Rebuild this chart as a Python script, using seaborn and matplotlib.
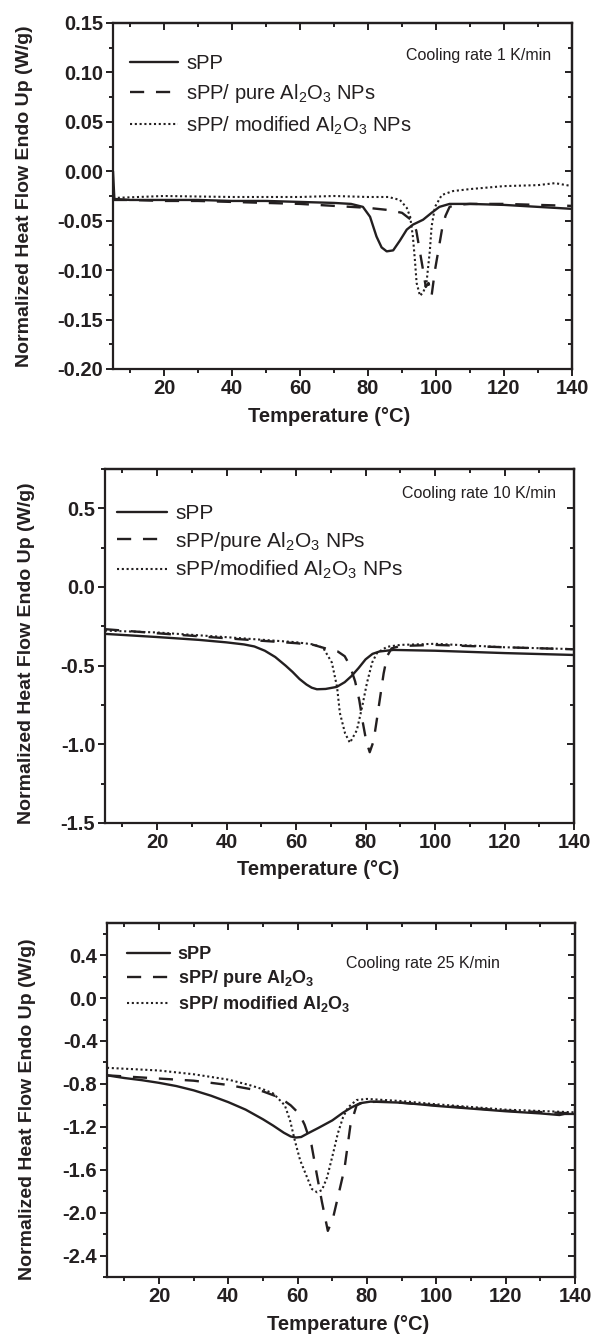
import pandas as pd
import seaborn as sns
import matplotlib.pyplot as plt
from matplotlib.ticker import MultipleLocator, FormatStrFormatter

# --- panel 1: cooling rate 1 K/min ---
spp1_t = [5.0, 5.4, 10, 20, 30, 40, 50, 60, 70, 75, 78.5, 80.6, 82.5, 84, 85.5, 87.4, 89.4, 91.4, 93.2, 96.2, 98.7, 101, 104, 110, 120, 130, 140]
spp1_y = [0.0, -0.028, -0.029, -0.029, -0.029, -0.030, -0.030, -0.031, -0.032, -0.033, -0.036, -0.046, -0.066, -0.077, -0.081, -0.080, -0.070, -0.059, -0.054, -0.049, -0.042, -0.036, -0.033, -0.033, -0.034, -0.036, -0.038]
pure1_t = [5, 10, 20, 30, 40, 50, 60, 70, 80, 85.5, 90, 91.5, 93, 94.2, 95.2, 96.2, 97.0, 97.8, 98.7, 99.7, 100.8, 101.8, 102.8, 104, 106, 110, 120, 130, 140]
pure1_y = [-0.029, -0.029, -0.030, -0.030, -0.031, -0.032, -0.033, -0.035, -0.037, -0.039, -0.042, -0.046, -0.050, -0.060, -0.080, -0.100, -0.117, -0.113, -0.126, -0.100, -0.078, -0.058, -0.045, -0.036, -0.034, -0.033, -0.033, -0.034, -0.035]
mod1_t = [5, 20, 40, 60, 70, 80, 86, 89.4, 91.4, 92.4, 93.2, 93.8, 94.3, 95.3, 96.3, 97.2, 98.2, 98.7, 99.7, 101.7, 105, 110, 120, 130, 135, 140]
mod1_y = [-0.027, -0.025, -0.026, -0.026, -0.025, -0.026, -0.026, -0.029, -0.037, -0.046, -0.066, -0.090, -0.113, -0.126, -0.122, -0.113, -0.080, -0.056, -0.036, -0.024, -0.020, -0.018, -0.015, -0.014, -0.012, -0.015]

# --- panel 2: cooling rate 10 K/min ---
spp2_t = [5, 20, 32, 40, 45, 48, 51, 54, 57, 59, 61, 63, 64.5, 66, 68.5, 71.7, 74, 76, 78, 80, 82, 84, 88, 100, 120, 140]
spp2_y = [-0.298, -0.318, -0.336, -0.352, -0.365, -0.378, -0.405, -0.445, -0.50, -0.54, -0.585, -0.62, -0.64, -0.65, -0.648, -0.635, -0.605, -0.565, -0.515, -0.46, -0.425, -0.41, -0.40, -0.405, -0.42, -0.432]
pure2_t = [5, 20, 40, 60, 65, 70, 72, 74, 75.5, 77, 78.2, 79.2, 80.2, 81.2, 82.3, 83.2, 84.2, 85.2, 86.2, 87.5, 90, 100, 120, 140]
pure2_y = [-0.268, -0.294, -0.326, -0.357, -0.368, -0.40, -0.41, -0.44, -0.50, -0.60, -0.72, -0.86, -0.98, -1.05, -0.98, -0.85, -0.70, -0.55, -0.44, -0.39, -0.375, -0.368, -0.383, -0.396]
mod2_t = [5, 20, 40, 60, 65, 67.8, 70.3, 71.8, 72.6, 74.1, 75.5, 77.5, 79, 80.4, 81.9, 83.3, 86.2, 90, 100, 120, 140]
mod2_y = [-0.277, -0.289, -0.319, -0.351, -0.365, -0.387, -0.48, -0.636, -0.80, -0.93, -0.99, -0.91, -0.763, -0.61, -0.48, -0.419, -0.38, -0.368, -0.361, -0.383, -0.395]

# --- panel 3: cooling rate 25 K/min ---
spp3_t = [5, 10, 15, 20, 25, 30, 35, 40, 45, 50, 53, 56, 58, 59.5, 61, 63, 66, 70, 73, 75.5, 78, 81, 90, 100, 110, 120, 130, 135.5, 137, 140]
spp3_y = [-0.72, -0.745, -0.765, -0.79, -0.82, -0.86, -0.91, -0.97, -1.04, -1.13, -1.19, -1.255, -1.29, -1.30, -1.295, -1.26, -1.21, -1.14, -1.07, -1.02, -0.98, -0.965, -0.975, -1.005, -1.03, -1.055, -1.075, -1.09, -1.08, -1.08]
pure3_t = [5, 10, 20, 30, 40, 50, 55, 58, 60.5, 62, 64, 65.5, 67, 68.7, 70.2, 71.5, 73.5, 75.2, 77, 79, 85, 100, 120, 140]
pure3_y = [-0.72, -0.73, -0.75, -0.77, -0.81, -0.87, -0.93, -1.00, -1.08, -1.18, -1.37, -1.64, -1.90, -2.17, -2.05, -1.87, -1.59, -1.19, -1.00, -0.97, -0.965, -1.0, -1.05, -1.075]
mod3_t = [5, 20, 30, 40, 46, 50, 53, 56.3, 57.8, 59.2, 60.7, 62.7, 64.1, 65.6, 67, 68.5, 70.2, 71.6, 73.1, 74.5, 77, 80, 90, 100, 120, 140]
mod3_y = [-0.65, -0.675, -0.71, -0.76, -0.81, -0.85, -0.89, -1.00, -1.14, -1.33, -1.51, -1.67, -1.78, -1.81, -1.79, -1.67, -1.45, -1.26, -1.11, -1.02, -0.95, -0.94, -0.96, -0.99, -1.04, -1.065]

ink = '#231f20'
sns.set_style('ticks')
plt.rcParams['font.family'] = ['Liberation Sans', 'DejaVu Sans']
plt.rcParams['mathtext.fontset'] = 'custom'
plt.rcParams['mathtext.rm'] = 'Liberation Sans'
plt.rcParams['mathtext.bf'] = 'Liberation Sans:bold'
plt.rcParams['mathtext.default'] = 'regular'
plt.rcParams['axes.unicode_minus'] = False

fig = plt.figure(figsize=(5.93, 13.36), dpi=100)

panels = [
    dict(rect=[113, 572, 23, 369], ylim=(-0.20, 0.15), major=0.05, minor=0.025, fmt='%.2f',
         series=[(spp1_t, spp1_y), (pure1_t, pure1_y), (mod1_t, mod1_y)],
         labels=['sPP', 'sPP/ pure Al$_2$O$_3$ NPs', 'sPP/ modified Al$_2$O$_3$ NPs'],
         leg_fs=14.5, leg_bold=False, leg_anchor=(0.037, 0.91), leg_space=0.45,
         note='Cooling rate 1 K/min', note_xy=(0.955, 0.905), note_ha='right',
         ylab_x=-0.174, ylab_y=0.5, xlab_xy=(0.47, -0.11)),
    dict(rect=[105, 574, 469, 823], ylim=(-1.5, 0.75), major=0.5, minor=0.25, fmt='%.1f',
         series=[(spp2_t, spp2_y), (pure2_t, pure2_y), (mod2_t, mod2_y)],
         labels=['sPP', 'sPP/pure Al$_2$O$_3$ NPs', 'sPP/modified Al$_2$O$_3$ NPs'],
         leg_fs=15, leg_bold=False, leg_anchor=(0.025, 0.9), leg_space=0.3,
         note='Cooling rate 10 K/min', note_xy=(0.962, 0.93), note_ha='right',
         ylab_x=-0.150, ylab_y=0.48, xlab_xy=(0.455, -0.105)),
    dict(rect=[107, 575, 923, 1277], ylim=(-2.6, 0.7), major=0.4, minor=0.2, fmt='%.1f',
         series=[(spp3_t, spp3_y), (pure3_t, pure3_y), (mod3_t, mod3_y)],
         labels=['sPP', r'sPP/ pure Al$_\mathbf{2}$O$_\mathbf{3}$', r'sPP/ modified Al$_\mathbf{2}$O$_\mathbf{3}$'],
         leg_fs=13, leg_bold=True, leg_anchor=(0.043, 0.935), leg_space=0.28,
         note='Cooling rate 25 K/min', note_xy=(0.51, 0.885), note_ha='left',
         ylab_x=-0.152, ylab_y=0.475, xlab_xy=(0.515, -0.107)),
]

styles = [dict(linestyle='-', linewidth=1.7),
          dict(linestyle=(0, (6, 5)), linewidth=1.7),
          dict(linestyle=(0, (1, 1.3)), linewidth=1.5)]

W, H = 593, 1336
for p in panels:
    l, r, t, b = p['rect']
    ax = fig.add_axes([l / W, 1 - b / H, (r - l) / W, (b - t) / H])
    for (tx, ty), lab, st in zip(p['series'], p['labels'], styles):
        sns.lineplot(x=tx, y=ty, ax=ax, color=ink, label=lab, sort=False,
                     estimator=None, **st)
    ax.set_xlim(5, 140)
    ax.set_ylim(*p['ylim'])
    ax.xaxis.set_major_locator(MultipleLocator(20))
    ax.xaxis.set_minor_locator(MultipleLocator(10))
    ax.yaxis.set_major_locator(MultipleLocator(p['major']))
    ax.yaxis.set_minor_locator(MultipleLocator(p['minor']))
    ax.yaxis.set_major_formatter(FormatStrFormatter(p['fmt']))
    ax.tick_params(which='both', direction='out', color=ink, width=1.4,
                   labelsize=14.5, labelcolor=ink, pad=2)
    ax.tick_params(which='major', length=5)
    ax.tick_params(which='minor', length=3)
    for lbl in ax.get_xticklabels() + ax.get_yticklabels():
        lbl.set_fontweight('bold')
    for s in ax.spines.values():
        s.set_linewidth(1.6)
        s.set_color(ink)

    # inward ticks on the top and right frame
    top = ax.secondary_xaxis('top')
    top.set_xticks(ax.get_xticks())
    top.xaxis.set_minor_locator(MultipleLocator(10))
    top.tick_params(which='both', direction='in', color=ink, width=1.4, labeltop=False)
    top.tick_params(which='major', length=5)
    top.tick_params(which='minor', length=3)
    right = ax.secondary_yaxis('right')
    right.yaxis.set_major_locator(MultipleLocator(p['major']))
    right.yaxis.set_minor_locator(MultipleLocator(p['minor']))
    right.tick_params(which='both', direction='in', color=ink, width=1.4, labelright=False)
    right.tick_params(which='major', length=5)
    right.tick_params(which='minor', length=3)
    for sec in (top, right):
        for s in sec.spines.values():
            s.set_linewidth(1.6)
            s.set_color(ink)

    ax.set_xlabel('Temperature (°C)', fontsize=14.5, fontweight='bold', color=ink)
    ax.set_ylabel('Normalized Heat Flow Endo Up (W/g)', fontsize=14, fontweight='bold', color=ink)
    ax.xaxis.set_label_coords(*p['xlab_xy'])
    ax.yaxis.set_label_coords(p['ylab_x'], p['ylab_y'])

    leg = ax.legend(loc='upper left', bbox_to_anchor=p['leg_anchor'], frameon=False,
                    fontsize=p['leg_fs'], handlelength=2.4, handletextpad=0.4,
                    labelspacing=p['leg_space'], borderpad=0, borderaxespad=0)
    for txt in leg.get_texts():
        txt.set_color(ink)
        if p['leg_bold']:
            txt.set_fontweight('bold')

    ax.text(p['note_xy'][0], p['note_xy'][1], p['note'], transform=ax.transAxes,
            ha=p['note_ha'], va='center', fontsize=11.5, color=ink)

fig.savefig('out.png', dpi=100)
